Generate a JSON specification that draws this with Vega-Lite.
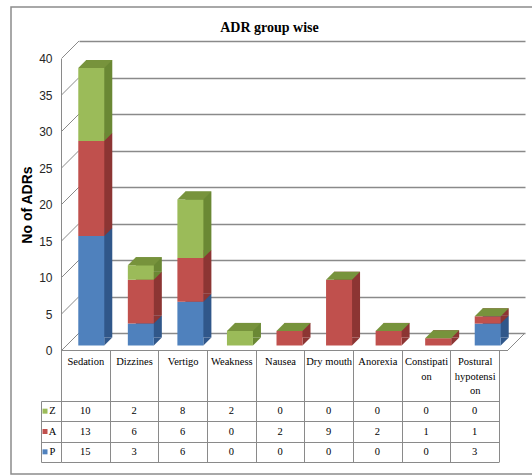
{
  "$schema": "https://vega.github.io/schema/vega-lite/v6.json",
  "width": 525,
  "height": 467,
  "autosize": "none",
  "padding": {"left": 11, "top": 7, "right": 0, "bottom": 2},
  "background": "white",
  "title": {
    "text": "ADR group wise",
    "font": "Liberation Serif",
    "fontSize": 14,
    "fontWeight": "bold",
    "color": "#000000",
    "anchor": "middle",
    "frame": "group",
    "baseline": "top",
    "offset": -28,
    "dx": -4
  },
  "config": {
    "view": {"stroke": "#8c8c8c", "strokeWidth": 1.5}
  },
  "datasets": {
    "adr": [
      {"cat": "Sedation", "grp": "P", "n": 15},
      {"cat": "Sedation", "grp": "A", "n": 13},
      {"cat": "Sedation", "grp": "Z", "n": 10},
      {"cat": "Dizzines", "grp": "P", "n": 3},
      {"cat": "Dizzines", "grp": "A", "n": 6},
      {"cat": "Dizzines", "grp": "Z", "n": 2},
      {"cat": "Vertigo", "grp": "P", "n": 6},
      {"cat": "Vertigo", "grp": "A", "n": 6},
      {"cat": "Vertigo", "grp": "Z", "n": 8},
      {"cat": "Weakness", "grp": "P", "n": 0},
      {"cat": "Weakness", "grp": "A", "n": 0},
      {"cat": "Weakness", "grp": "Z", "n": 2},
      {"cat": "Nausea", "grp": "P", "n": 0},
      {"cat": "Nausea", "grp": "A", "n": 2},
      {"cat": "Nausea", "grp": "Z", "n": 0},
      {"cat": "Dry mouth", "grp": "P", "n": 0},
      {"cat": "Dry mouth", "grp": "A", "n": 9},
      {"cat": "Dry mouth", "grp": "Z", "n": 0},
      {"cat": "Anorexia", "grp": "P", "n": 0},
      {"cat": "Anorexia", "grp": "A", "n": 2},
      {"cat": "Anorexia", "grp": "Z", "n": 0},
      {"cat": "Constipation", "grp": "P", "n": 0},
      {"cat": "Constipation", "grp": "A", "n": 1},
      {"cat": "Constipation", "grp": "Z", "n": 0},
      {"cat": "Postural hypotension", "grp": "P", "n": 3},
      {"cat": "Postural hypotension", "grp": "A", "n": 1},
      {"cat": "Postural hypotension", "grp": "Z", "n": 0}
    ],
    "wall": [
      {"v": 0}, {"v": 5}, {"v": 10}, {"v": 15}, {"v": 20},
      {"v": 25}, {"v": 30}, {"v": 35}, {"v": 40}
    ]
  },
  "layer": [
    {
      "data": {"name": "wall"},
      "mark": {"type": "point", "shape": "M0,0L17.5,-17.5", "size": 4, "filled": false, "stroke": "#8a8a8a", "strokeWidth": 1, "opacity": 1},
      "encoding": {
        "x": {
          "datum": "Sedation", "type": "nominal", "bandPosition": 0,
          "scale": {"type": "band", "domain": ["Sedation", "Dizzines", "Vertigo", "Weakness", "Nausea", "Dry mouth", "Anorexia", "Constipation", "Postural hypotension"], "range": [50.5, 496.5], "paddingInner": 0, "paddingOuter": 0},
          "axis": {"orient": "bottom", "offset": -124, "domain": true, "domainColor": "#8a8a8a", "domainWidth": 1, "ticks": false, "labels": false, "grid": false, "title": null}
        },
        "y": {
          "field": "v", "type": "quantitative",
          "scale": {"domain": [0, 40], "range": [343.5, 51.5], "nice": false, "zero": false},
          "axis": {
            "orient": "left", "offset": -50, "values": [0, 5, 10, 15, 20, 25, 30, 35, 40],
            "domain": true, "domainColor": "#8a8a8a", "domainWidth": 1,
            "ticks": false, "tickSize": 0, "grid": false,
            "labelFont": "Liberation Sans", "labelFontSize": 12, "labelColor": "#262626", "labelPadding": 9,
            "title": "No of ADRs", "titleFont": "Liberation Sans", "titleFontSize": 14, "titleFontWeight": "bold", "titleColor": "#000000", "titlePadding": 4
          }
        }
      }
    },
    {
      "data": {"name": "wall"},
      "transform": [{"filter": "datum.v == 0"}],
      "mark": {"type": "point", "shape": "M0,0L17.5,-17.5", "size": 4, "filled": false, "stroke": "#8a8a8a", "strokeWidth": 1, "opacity": 1},
      "encoding": {
        "x": {
          "datum": "Postural hypotension", "type": "nominal", "bandPosition": 1,
          "scale": {"type": "band", "domain": ["Sedation", "Dizzines", "Vertigo", "Weakness", "Nausea", "Dry mouth", "Anorexia", "Constipation", "Postural hypotension"], "range": [50.5, 496.5], "paddingInner": 0, "paddingOuter": 0},
          "axis": null
        },
        "y": {
          "field": "v", "type": "quantitative",
          "scale": {"domain": [0, 40], "range": [343.5, 51.5], "nice": false, "zero": false},
          "axis": null
        }
      }
    },
    {
      "data": {"name": "adr"},
      "transform": [{"calculate": "indexof(['P','A','Z'], datum.grp)", "as": "k"}],
      "mark": {"type": "bar", "width": 26, "xOffset": -4.5, "yOffset": 4.5, "y2Offset": 4.5},
      "encoding": {
        "x": {
          "field": "cat", "type": "nominal",
          "scale": {"type": "band", "domain": ["Sedation", "Dizzines", "Vertigo", "Weakness", "Nausea", "Dry mouth", "Anorexia", "Constipation", "Postural hypotension"], "range": [68, 514], "paddingInner": 0, "paddingOuter": 0},
          "axis": null
        },
        "y": {
          "field": "n", "type": "quantitative", "stack": "zero",
          "scale": {"domain": [0, 40], "range": [326, 34], "nice": false, "zero": false},
          "axis": {
            "orient": "left", "values": [0, 5, 10, 15, 20, 25, 30, 35, 40],
            "grid": true, "gridColor": "#8a8a8a", "gridWidth": 1.5,
            "domain": false, "ticks": false, "labels": false, "title": null
          }
        },
        "color": {
          "field": "grp", "type": "nominal",
          "scale": {"domain": ["P", "A", "Z"], "range": ["#30578a", "#8c3533", "#6a8834"]},
          "legend": null
        },
        "order": {"field": "k", "type": "quantitative"}
      }
    },
    {
      "data": {"name": "adr"},
      "transform": [
        {"calculate": "indexof(['P','A','Z'], datum.grp)", "as": "k"},
        {"filter": "datum.n > 0"},
        {"stack": "n", "groupby": ["cat"], "sort": [{"field": "k", "order": "ascending"}], "as": ["n0", "n1"]}
      ],
      "mark": {"type": "point", "shape": "M0,0L0,-8L8,-8Z", "size": 4, "filled": true, "opacity": 1, "strokeWidth": 0, "xOffset": 0.5, "yOffset": 12.5},
      "encoding": {
        "x": {
          "field": "cat", "type": "nominal",
          "scale": {"type": "band", "domain": ["Sedation", "Dizzines", "Vertigo", "Weakness", "Nausea", "Dry mouth", "Anorexia", "Constipation", "Postural hypotension"], "range": [68, 514], "paddingInner": 0, "paddingOuter": 0},
          "axis": null
        },
        "y": {
          "field": "n0", "type": "quantitative",
          "scale": {"domain": [0, 40], "range": [326, 34], "nice": false, "zero": false},
          "axis": null
        },
        "color": {
          "field": "grp", "type": "nominal",
          "scale": {"domain": ["P", "A", "Z"], "range": ["#30578a", "#8c3533", "#6a8834"]},
          "legend": null
        }
      }
    },
    {
      "data": {"name": "adr"},
      "transform": [{"calculate": "indexof(['P','A','Z'], datum.grp)", "as": "k"}],
      "mark": {"type": "bar", "width": 26, "xOffset": -12.5, "yOffset": 12.5, "y2Offset": 12.5},
      "encoding": {
        "x": {
          "field": "cat", "type": "nominal",
          "scale": {"type": "band", "domain": ["Sedation", "Dizzines", "Vertigo", "Weakness", "Nausea", "Dry mouth", "Anorexia", "Constipation", "Postural hypotension"], "range": [68, 514], "paddingInner": 0, "paddingOuter": 0},
          "axis": null
        },
        "y": {
          "field": "n", "type": "quantitative", "stack": "zero",
          "scale": {"domain": [0, 40], "range": [326, 34], "nice": false, "zero": false},
          "axis": null
        },
        "color": {
          "field": "grp", "type": "nominal",
          "scale": {"domain": ["P", "A", "Z"], "range": ["#4f81bd", "#c0504d", "#9bbb59"]},
          "legend": null
        },
        "order": {"field": "k", "type": "quantitative"}
      }
    },
    {
      "data": {"name": "adr"},
      "transform": [{"aggregate": [{"op": "sum", "field": "n", "as": "total"}], "groupby": ["cat"]}],
      "mark": {"type": "point", "shape": "M0,0L26,0L34,-8L8,-8Z", "size": 4, "filled": true, "fill": "#77933c", "opacity": 1, "strokeWidth": 0, "xOffset": -25.5, "yOffset": 12.5},
      "encoding": {
        "x": {
          "field": "cat", "type": "nominal",
          "scale": {"type": "band", "domain": ["Sedation", "Dizzines", "Vertigo", "Weakness", "Nausea", "Dry mouth", "Anorexia", "Constipation", "Postural hypotension"], "range": [68, 514], "paddingInner": 0, "paddingOuter": 0},
          "axis": null
        },
        "y": {
          "field": "total", "type": "quantitative",
          "scale": {"domain": [0, 40], "range": [326, 34], "nice": false, "zero": false},
          "axis": null
        }
      }
    },
    {
      "data": {"name": "adr"},
      "mark": {"type": "text", "font": "Liberation Serif", "fontSize": 10.5, "color": "#000000", "baseline": "middle", "align": "center"},
      "encoding": {
        "x": {
          "field": "cat", "type": "nominal",
          "scale": {"type": "band", "domain": ["Sedation", "Dizzines", "Vertigo", "Weakness", "Nausea", "Dry mouth", "Anorexia", "Constipation", "Postural hypotension"], "range": [50, 488], "paddingInner": 0, "paddingOuter": 0},
          "axis": {
            "orient": "bottom", "offset": -124, "domain": false,
            "ticks": true, "tickBand": "extent", "tickSize": 111.5, "tickColor": "#8a8a8a", "tickWidth": 1,
            "grid": false, "title": null,
            "labelAngle": 0, "labelOverlap": false, "labelPadding": -105, "labelBaseline": "top",
            "labelFont": "Liberation Serif", "labelFontSize": 10.5, "labelColor": "#000000", "labelLineHeight": 14.5, "labelLimit": 0,
            "labelExpr": "datum.value == 'Constipation' ? ['Constipati', 'on'] : datum.value == 'Postural hypotension' ? ['Postural', 'hypotensi', 'on'] : datum.value"
          }
        },
        "y": {
          "field": "grp", "type": "nominal",
          "scale": {"type": "band", "domain": ["Z", "A", "P"], "range": [394, 455], "paddingInner": 0, "paddingOuter": 0},
          "axis": {
            "orient": "left", "offset": -50, "domain": true, "domainColor": "#8a8a8a",
            "ticks": true, "tickBand": "extent", "tickSize": 20, "tickColor": "#8a8a8a",
            "grid": true, "gridColor": "#8a8a8a", "gridWidth": 1,
            "labels": false, "title": null
          }
        },
        "text": {"field": "n", "type": "quantitative"}
      }
    },
    {
      "data": {"name": "adr"},
      "transform": [{"filter": "datum.cat == 'Sedation'"}],
      "mark": {"type": "square", "size": 25, "filled": true, "opacity": 1, "xOffset": -16},
      "encoding": {
        "x": {
          "datum": "Sedation", "type": "nominal", "bandPosition": 0,
          "scale": {"type": "band", "domain": ["Sedation", "Dizzines", "Vertigo", "Weakness", "Nausea", "Dry mouth", "Anorexia", "Constipation", "Postural hypotension"], "range": [50, 488], "paddingInner": 0, "paddingOuter": 0},
          "axis": null
        },
        "y": {
          "field": "grp", "type": "nominal",
          "scale": {"type": "band", "domain": ["Z", "A", "P"], "range": [394, 455], "paddingInner": 0, "paddingOuter": 0},
          "axis": {"orient": "left", "offset": -30, "domain": true, "domainColor": "#8a8a8a", "ticks": false, "labels": false, "grid": false, "title": null}
        },
        "color": {
          "field": "grp", "type": "nominal",
          "scale": {"domain": ["P", "A", "Z"], "range": ["#4f81bd", "#c0504d", "#9bbb59"]},
          "legend": null
        }
      }
    },
    {
      "data": {"name": "adr"},
      "transform": [{"filter": "datum.cat == 'Sedation'"}],
      "mark": {"type": "text", "font": "Liberation Serif", "fontSize": 10.5, "color": "#000000", "baseline": "middle", "align": "center", "xOffset": -8.5},
      "encoding": {
        "x": {
          "datum": "Sedation", "type": "nominal", "bandPosition": 0,
          "scale": {"type": "band", "domain": ["Sedation", "Dizzines", "Vertigo", "Weakness", "Nausea", "Dry mouth", "Anorexia", "Constipation", "Postural hypotension"], "range": [50, 488], "paddingInner": 0, "paddingOuter": 0},
          "axis": null
        },
        "y": {
          "field": "grp", "type": "nominal",
          "scale": {"type": "band", "domain": ["Z", "A", "P"], "range": [394, 455], "paddingInner": 0, "paddingOuter": 0},
          "axis": null
        },
        "text": {"field": "grp", "type": "nominal"}
      }
    }
  ],
  "resolve": {
    "scale": {"x": "independent", "y": "independent", "color": "independent"},
    "axis": {"x": "independent", "y": "independent"}
  }
}
